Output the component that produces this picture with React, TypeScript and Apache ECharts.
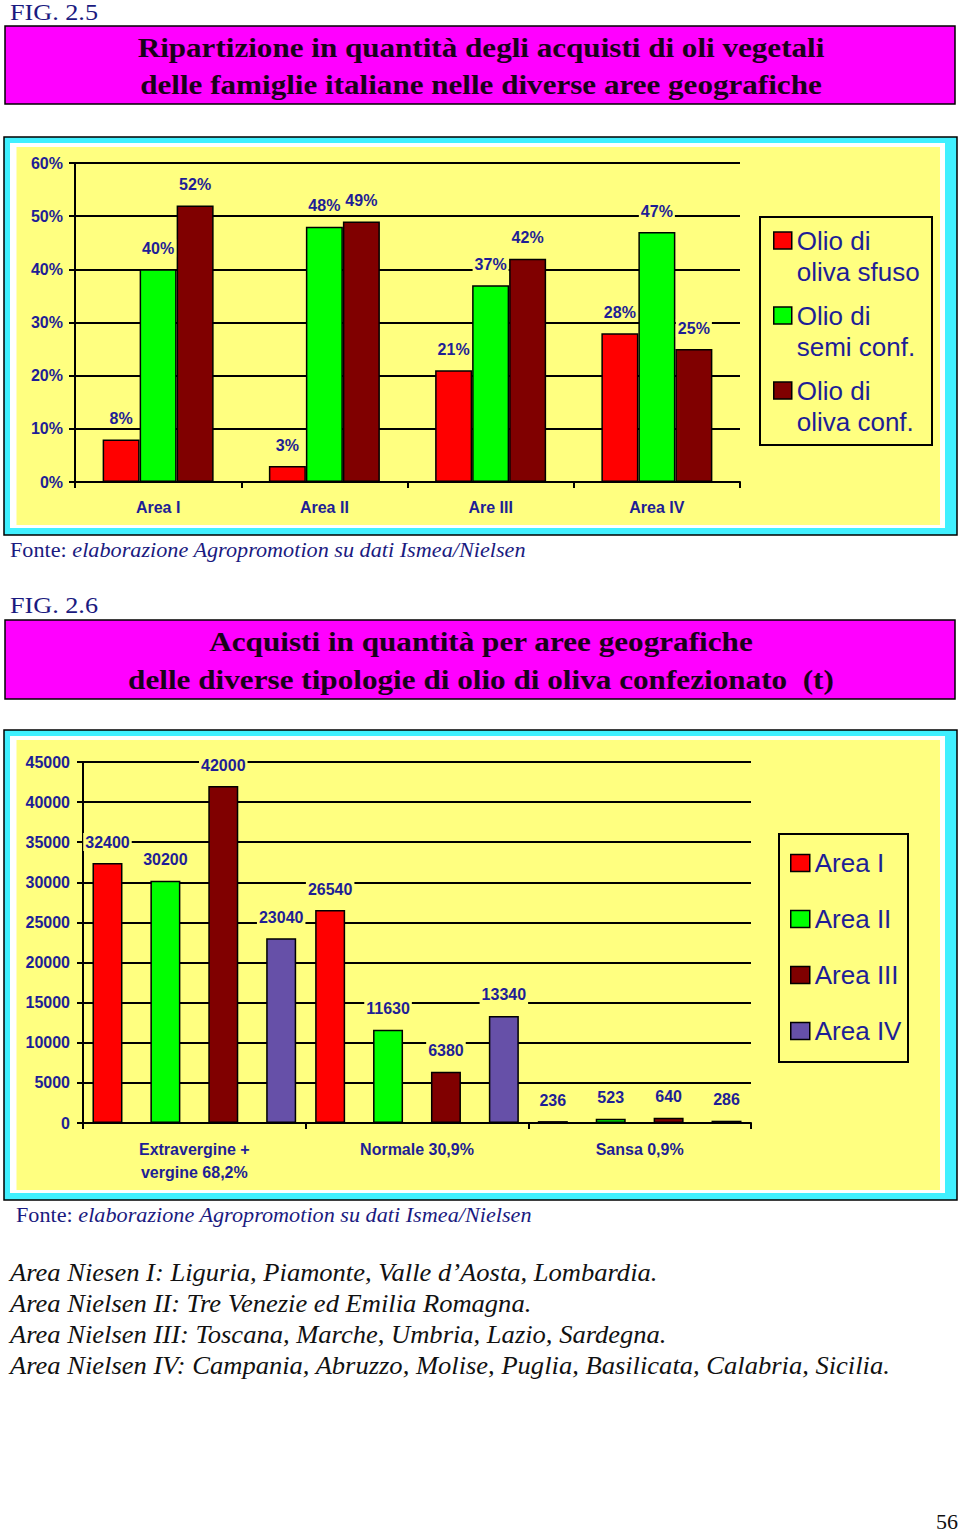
import React, { useEffect, useRef } from 'react';
import * as echarts from 'echarts';

// ---------- DATA ----------
const areaCats = ['Area I', 'Area II', 'Are III', 'Area IV'];
const oilNames = ['Olio di\noliva sfuso', 'Olio di\nsemi conf.', 'Olio di\noliva conf.'];
const sfuso = [8, 3, 21, 28];
const semiConf = [40, 48, 37, 47];
const olivaConf = [52, 49, 42, 25];

const typeCats = ['Extravergine +\nvergine 68,2%', 'Normale 30,9%', 'Sansa 0,9%'];
const areaNames = ['Area I', 'Area II', 'Area III', 'Area IV'];
const area1 = [32400, 26540, 236];
const area2 = [30200, 11630, 523];
const area3 = [42000, 6380, 640];
const area4 = [23040, 13340, 286];

const fig1 = 'FIG. 2.5';
const fig2 = 'FIG. 2.6';
const title1 = [
  'Ripartizione in quantità degli acquisti di oli vegetali',
  'delle famiglie italiane nelle diverse aree geografiche',
];
const title2 = [
  'Acquisti in quantità per aree geografiche',
  'delle diverse tipologie di olio di oliva confezionato  (t)',
];
const fonteLabel = 'Fonte: ';
const fonteText = 'elaborazione Agropromotion su dati Ismea/Nielsen';
const notes = [
  'Area Niesen I: Liguria, Piamonte, Valle d’Aosta, Lombardia.',
  'Area Nielsen II: Tre Venezie ed Emilia Romagna.',
  'Area Nielsen III: Toscana, Marche, Umbria, Lazio, Sardegna.',
  'Area Nielsen IV: Campania, Abruzzo, Molise, Puglia, Basilicata, Calabria, Sicilia.',
];
const pageNumber = '56';

// ---------- STYLE ----------
const RED = '#ff0000';
const GREEN = '#00ff00';
const MAROON = '#800000';
const PURPLE = '#6650a8';
const BLUE = '#1e1e96';
const NAVY = '#1a1a80';
const YELLOW = '#ffff80';
const CYAN = '#40f0ff';
const MAGENTA = '#ff00ff';
const SANS = '"Liberation Sans", Arial, sans-serif';
const SERIF = '"Liberation Serif", "Times New Roman", serif';

export default function App() {
  const ref = useRef<HTMLDivElement>(null);

  useEffect(() => {
    document.body.style.margin = '0';
    const ctx = document.createElement('canvas').getContext('2d')!;
    const mw = (t: string, font: string) => {
      ctx.font = font;
      return ctx.measureText(t).width;
    };

    const chart = echarts.init(ref.current!, null, { renderer: 'svg' });

    const titleFont = `bold 28px ${SERIF}`;
    const s1 = 687 / mw(title1[0], titleFont);
    const s2 = 706 / mw(title2[1], titleFont);
    const noteFont = `italic 26px ${SERIF}`;
    const sN = 881 / mw(notes[3], noteFont);
    const figFont = `24px ${SERIF}`;
    const sF = 88 / mw(fig1, figFont);
    const fonteW = mw(fonteLabel, `21px ${SERIF}`) + mw(fonteText, `italic 21px ${SERIF}`);
    const sFo = 516 / fonteW;

    const txt = (text: string, x: number, y: number, font: any, scaleX = 1, align = 'left') => ({
      type: 'text',
      x,
      y,
      z: 100,
      scaleX,
      style: { text, align, verticalAlign: 'middle', ...font },
    });

    const frame = (y: number, h: number) => [
      {
        type: 'rect', z: -100,
        shape: { x: 4, y, width: 953, height: h },
        style: { fill: CYAN, stroke: '#000', lineWidth: 1.5 },
      },
      {
        type: 'rect', z: -99,
        shape: { x: 10, y: y + 6, width: 935, height: h - 13 },
        style: { fill: '#ffffff' },
      },
      {
        type: 'rect', z: -98,
        shape: { x: 16.5, y: y + 10, width: 923.5, height: h - 20 },
        style: { fill: YELLOW },
      },
    ];

    const magenta = (y: number, h: number) => ({
      type: 'rect', z: -100,
      shape: { x: 5, y, width: 950, height: h },
      style: { fill: MAGENTA, stroke: '#000', lineWidth: 1.5 },
    });

    const titleStyle = { font: titleFont, fill: '#1a001a' };
    const noteStyle = { font: noteFont, fill: '#111' };
    const figStyle = { font: figFont, fill: NAVY };
    const fonte = (x: number, y: number) => ({
      type: 'text', x, y, z: 100, scaleX: sFo,
      style: {
        text: `{n|${fonteLabel}}{i|${fonteText}}`,
        verticalAlign: 'middle',
        rich: {
          n: { fontFamily: SERIF, fontSize: 21, fill: NAVY },
          i: { fontFamily: SERIF, fontSize: 21, fontStyle: 'italic', fill: NAVY },
        },
      },
    });

    const axisText = { color: BLUE, fontWeight: 'bold', fontSize: 16, fontFamily: SANS };
    const blackLine = { color: '#000', width: 2 };
    const barLabel = {
      show: true, position: 'top', distance: 12,
      ...axisText, backgroundColor: YELLOW, padding: [1, 2],
    };
    const barItem = (color: string) => ({ color, borderColor: '#000', borderWidth: 1.5 });

    const bar1 = (name: string, data: number[], color: string) => ({
      type: 'bar', name, data, xAxisIndex: 0, yAxisIndex: 0,
      barWidth: 37, barGap: '0%',
      itemStyle: barItem(color),
      label: { ...barLabel, formatter: '{c}%' },
    });
    const bar2 = (name: string, data: number[], color: string) => ({
      type: 'bar', name, data, xAxisIndex: 1, yAxisIndex: 1,
      barWidth: 30, barGap: '93%',
      itemStyle: barItem(color),
      label: { ...barLabel },
    });

    const option: any = {
      animation: false,
      grid: [
        { left: 75, top: 163, width: 665, height: 319 },
        { left: 83, top: 762, width: 668, height: 361 },
      ],
      xAxis: [
        {
          type: 'category', gridIndex: 0, data: areaCats,
          axisLine: { lineStyle: blackLine },
          axisTick: { show: true, length: 6, lineStyle: blackLine },
          axisLabel: { ...axisText, margin: 17 },
        },
        {
          type: 'category', gridIndex: 1, data: typeCats,
          axisLine: { lineStyle: blackLine },
          axisTick: { show: true, length: 6, lineStyle: blackLine },
          axisLabel: { ...axisText, margin: 15, lineHeight: 23, interval: 0 },
        },
      ],
      yAxis: [
        {
          type: 'value', gridIndex: 0, min: 0, max: 60, interval: 10,
          axisLine: { show: true, lineStyle: blackLine },
          axisTick: { show: true, length: 6, lineStyle: blackLine },
          splitLine: { show: true, lineStyle: blackLine },
          axisLabel: { ...axisText, margin: 12, formatter: '{value}%' },
        },
        {
          type: 'value', gridIndex: 1, min: 0, max: 45000, interval: 5000,
          axisLine: { show: true, lineStyle: blackLine },
          axisTick: { show: true, length: 6, lineStyle: blackLine },
          splitLine: { show: true, lineStyle: blackLine },
          axisLabel: { ...axisText, margin: 13, formatter: (v: number) => String(v) },
        },
      ],
      legend: [
        {
          orient: 'vertical', left: 773, top: 194, padding: 0,
          itemWidth: 18, itemHeight: 17, itemGap: -18,
          selectedMode: false, icon: 'rect',
          data: oilNames,
          formatter: (name: string) => '\n' + name,
          itemStyle: { borderColor: '#000', borderWidth: 1.5 },
          textStyle: { fontFamily: SANS, fontSize: 26, color: BLUE, lineHeight: 31 },
        },
        {
          orient: 'vertical', left: 790, top: 850, padding: 0,
          itemWidth: 19, itemHeight: 17, itemGap: 30,
          selectedMode: false, icon: 'rect',
          data: areaNames,
          itemStyle: { borderColor: '#000', borderWidth: 1.5 },
          textStyle: { fontFamily: SANS, fontSize: 26, color: BLUE, lineHeight: 26 },
        },
      ],
      series: [
        bar1(oilNames[0], sfuso, RED),
        bar1(oilNames[1], semiConf, GREEN),
        bar1(oilNames[2], olivaConf, MAROON),
        bar2(areaNames[0], area1, RED),
        bar2(areaNames[1], area2, GREEN),
        bar2(areaNames[2], area3, MAROON),
        bar2(areaNames[3], area4, PURPLE),
      ],
      graphic: {
        elements: [
          txt(fig1, 10, 12, figStyle, sF),
          magenta(26, 78),
          txt(title1[0], 481, 48, titleStyle, s1, 'center'),
          txt(title1[1], 481, 85, titleStyle, s1, 'center'),
          ...frame(137, 398),
          {
            type: 'rect', z: -50,
            shape: { x: 760, y: 217, width: 172, height: 228 },
            style: { fill: 'none', stroke: '#000', lineWidth: 2 },
          },
          fonte(10, 550),

          txt(fig2, 10, 605, figStyle, sF),
          magenta(620, 79),
          txt(title2[0], 481, 642, titleStyle, s2, 'center'),
          txt(title2[1], 481, 680, titleStyle, s2, 'center'),
          ...frame(730, 470),
          {
            type: 'rect', z: -50,
            shape: { x: 779, y: 834, width: 129, height: 228 },
            style: { fill: 'none', stroke: '#000', lineWidth: 2 },
          },
          fonte(16, 1215),

          ...notes.map((n, i) => txt(n, 10, 1273 + i * 31, noteStyle, sN)),
          txt(pageNumber, 958, 1521, { font: `22px ${SERIF}`, fill: '#111' }, 1, 'right'),
        ],
      },
    };

    chart.setOption(option);
    return () => chart.dispose();
  }, []);

  return <div ref={ref} style={{ width: 960, height: 1532, background: '#ffffff' }} />;
}
